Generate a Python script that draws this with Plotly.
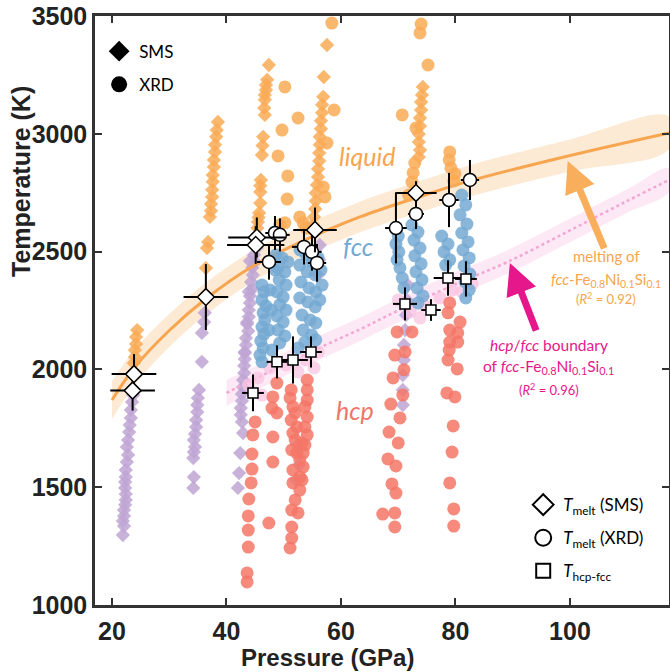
import plotly.graph_objects as go

# ---------------- data ----------------
# SMS, solid (purple diamonds)
sms_solid_P = [23.7, 23.5, 23.3, 23.3, 23.1, 23.0, 22.8, 22.6, 22.8, 22.6, 22.4, 22.4, 22.3, 22.3, 22.4, 22.4, 22.3, 22.1, 22.1, 21.9, 22.1, 21.9,
               36.2, 36.1, 35.7, 35.7, 35.2, 35.0, 34.9, 34.9, 34.7, 34.7, 34.5, 34.3, 34.5, 34.3, 34.2, 34.3, 34.2,
               45.3, 44.8, 45.0, 44.5, 44.6, 44.3, 44.5, 44.1, 44.1, 43.9, 43.9, 43.6, 43.8, 43.4, 43.4, 43.2, 43.2, 43.1, 43.1, 42.9,
               42.9, 42.7, 42.7, 42.5, 42.5, 42.7, 42.9, 42.4, 42.2, 42.0, 44.1, 43.9, 43.6, 43.2,
               52.3, 52.7, 52.1, 56.3, 56.2, 56.0,
               71.7, 71.5, 71.35, 71.2, 71.0, 71.0, 70.8, 70.8, 70.8]
sms_solid_T = [1891, 1862, 1828, 1794, 1764, 1734, 1700, 1671, 1637, 1607, 1573, 1543, 1522, 1497, 1471, 1446, 1425, 1403, 1378, 1357, 1335, 1297,
               2240, 2201, 2155, 2032, 1913, 1879, 1849, 1819, 1785, 1756, 1726, 1700, 1671, 1649, 1624, 1543, 1497,
               2515, 2486, 2456, 2431, 2401, 2371, 2341, 2312, 2282, 2252, 2223, 2193, 2163, 2133, 2104, 2074, 2044, 2015, 1985, 1955,
               1925, 1896, 1866, 1836, 1807, 1777, 1730, 1645, 1560, 1497, 2460, 2330, 2200, 2070,
               1679, 1594, 1531, 2528, 2465, 2401,
               2358, 2295, 2231, 2167, 2104, 2040, 1976, 1913, 1849]

# SMS, liquid (orange diamonds)
sms_liq_P = [24.4, 24.2, 24.2, 24.0, 24.0, 23.8,
             38.5, 38.3, 38.2, 38.0, 38.0, 37.8, 37.8, 37.6, 37.6, 37.5, 37.5, 37.3, 37.3, 37.1, 36.8, 36.6, 36.4,
             47.4, 47.1, 46.9, 46.9, 46.7, 46.7, 46.7, 46.4, 46.2, 46.0, 45.9, 45.9, 45.7, 45.5, 46.6, 46.3, 45.9, 45.6, 45.4,
             57.55, 57.0, 56.9, 56.7, 56.7, 56.5, 56.5, 56.3, 56.3, 56.2, 56.2, 56.0, 56.0, 55.8, 55.6, 55.6, 55.5, 55.3, 55.1,
             74.3, 74.15, 74.0, 74.0, 73.8, 73.8, 73.6, 73.6, 73.8, 73.6]
sms_liq_T = [2167, 2138, 2108, 2082, 2053, 2027,
             3050, 3016, 2987, 2953, 2923, 2889, 2859, 2825, 2796, 2762, 2732, 2702, 2673, 2647, 2541, 2515, 2430,
             3292, 3229, 3207, 3186, 3165, 3144, 3080, 2987, 2910, 2804, 2753, 2706, 2664, 2626, 3110, 2950, 2780, 2645, 2600,
             3377, 3241, 3157, 3123, 3089, 3055, 3021, 2987, 2953, 2919, 2885, 2851, 2817, 2783, 2749, 2715, 2681, 2647, 2613,
             3199, 3165, 3135, 3101, 3067, 3033, 2999, 2965, 2931, 2902]

# XRD, liquid (orange circles)
xrd_liq_P = [50.2, 52.5, 49.7, 49.0, 50.7, 50.6, 50.2, 52.8, 53.4, 49.3, 53.9,
             58.4, 58.8, 57.55, 56.9, 57.2,
             74.0, 73.8, 75.2, 70.7, 73.1, 72.9, 72.6, 72.4, 71.8,
             79.0, 78.9, 79.2, 79.9, 79.7]
xrd_liq_T = [3199, 3067, 3016, 2906, 2821, 2723, 2622, 2647, 2622, 2613, 2600,
             3470, 3101, 2961, 2774, 2732,
             3466, 3428, 3292, 3080, 3025, 2876, 2834, 2795, 2740,
             2923, 2889, 2855, 2830, 2800]

# XRD, fcc (blue circles)
xrd_fcc_P = [46.2, 46.55, 46.2, 46.9, 46.4, 46.7, 46.2, 46.55, 46.0, 46.4, 45.85, 46.2,
             48.65, 49.7, 50.74, 49.0, 50.2, 49.2, 50.4, 48.8, 49.9, 49.3, 50.4, 48.8, 49.9, 49.0, 50.2, 49.3, 47.95, 48.5, 47.6, 47.8, 47.4,
             52.84, 53.9, 54.9, 56.0, 52.8, 54.1, 55.5, 56.5, 53.0, 54.4, 55.6, 56.7, 52.8, 54.2, 55.5, 56.3, 53.2, 54.6, 55.6, 53.4, 54.9, 53.7, 55.6, 52.5,
             70.0, 69.6, 70.1, 69.8, 70.3, 70.7, 71.0, 72.4, 73.45, 72.75, 73.8, 72.9, 74.0, 73.1, 74.15, 73.3, 74.3, 73.45,
             77.6, 78.7, 78.0, 79.0, 78.3, 81.1, 81.8, 80.8, 82.0, 81.1, 82.2, 81.3, 82.4, 81.5, 82.5, 81.7, 82.4, 81.8]
xrd_fcc_T = [2358, 2329, 2295, 2269, 2240, 2210, 2180, 2150, 2121, 2091, 2061, 2032,
             2486, 2473, 2456, 2431, 2414, 2380, 2358, 2329, 2307, 2274, 2252, 2227, 2201, 2167, 2142, 2112, 2082, 2422, 2337, 2252, 2167,
             2507, 2486, 2456, 2473, 2443, 2414, 2401, 2422, 2371, 2346, 2329, 2358, 2303, 2286, 2265, 2295, 2231, 2210, 2197, 2167, 2146, 2116, 2125, 2091,
             2566, 2532, 2499, 2465, 2431, 2388, 2346, 2613, 2583, 2549, 2515, 2482, 2448, 2414, 2380, 2346, 2312, 2282,
             2566, 2532, 2499, 2465, 2443, 2740, 2698, 2656, 2617, 2579, 2541, 2507, 2473, 2439, 2405, 2371, 2337, 2303]

# XRD, hcp + fcc coexistence (light pink circles)
xrd_mix_P = [43.8, 45.5, 46.2, 47.6, 50.4, 52.5, 53.9, 55.3, 56.0, 70.0, 72.1, 73.8, 74.7, 77.3, 79.4, 81.1, 82.9]
xrd_mix_T = [1934, 1964, 1891, 2006, 2019, 1989, 2040, 2006, 2074, 2295, 2244, 2218, 2269, 2303, 2337, 2329, 2363]

# XRD, hcp (salmon circles)
xrd_hcp_P = [45.0, 44.6, 44.45, 44.45, 44.3, 43.9, 43.8, 43.8, 43.8, 43.6, 43.6,
             48.8, 48.1, 47.95, 48.8, 48.1, 48.1, 47.4,
             51.3, 51.1, 51.6, 52.0, 51.3, 52.3, 51.6, 52.0, 53.2, 51.4, 53.7, 52.3, 52.8, 51.6, 53.4, 53.2, 51.6, 52.8, 52.0, 51.4, 52.5,
             51.4, 51.4, 51.1, 54.1, 54.1, 54.1, 53.7, 54.1, 53.7, 54.1, 53.4, 52.8,
             69.8, 72.4, 69.4, 71.2, 69.1, 71.0, 70.8, 68.7, 70.3, 68.4, 70.0, 68.2, 69.6, 68.9, 69.6, 67.3, 69.4, 69.4,
             79.0, 78.7, 80.8, 79.0, 80.4, 79.0, 80.4, 78.9, 78.7, 80.3, 78.5, 79.9, 79.6, 79.4, 79.0, 79.7, 79.7]
xrd_hcp_T = [1777, 1722, 1641, 1577, 1518, 1450, 1378, 1318, 1246, 1136, 1098,
             1942, 1883, 1836, 1815, 1713, 1607, 1348,
             1913, 1879, 1841, 1815, 1785, 1756, 1730, 1700, 1688, 1658, 1679, 1645, 1616, 1573, 1586, 1531, 1518, 1488, 1446, 1403, 1391,
             1331, 1284, 1242, 1955, 1913, 1870, 1841, 1798, 1756, 1722, 1645, 1543,
             2159, 2159, 2061, 2074, 1964, 1998, 1891, 1853, 1794, 1734, 1688, 1620, 1590, 1514, 1475, 1386, 1391, 1331,
             2282, 2240, 2201, 2167, 2155, 2116, 2116, 2082, 2040, 2002, 1900, 1883, 1760, 1649, 1518, 1408, 1335]

# Melting points from SMS (open diamonds)
tm_sms_P = [23.84, 23.6, 36.4, 45.3, 45.1, 55.46, 73.1]
tm_sms_T = [1980, 1910, 2307, 2560, 2528, 2592, 2749]
tm_sms_dP = [3.9, 3.9, 3.9, 5.0, 5.0, 3.8, 3.6]
tm_sms_dT = [85, 85, 140, 85, 80, 95, 50]

# Melting points from XRD (open circles)
tm_xrd_P = [48.47, 49.34, 47.42, 53.54, 54.93, 55.81, 69.6, 73.1, 78.87, 82.53]
tm_xrd_T = [2579, 2571, 2456, 2520, 2499, 2452, 2600, 2660, 2719, 2804]
tm_xrd_dP = [1.7, 1.7, 2.1, 2.1, 1.7, 1.6, 1.9, 1.4, 1.7, 1.6]
tm_xrd_dT = [72, 70, 75, 75, 80, 80, 150, 64, 115, 85]

# hcp-fcc transition points (open squares)
thf_P = [44.63, 48.82, 51.62, 54.76, 71.18, 75.72, 78.69, 81.83]
thf_T = [1900, 2032, 2040, 2074, 2278, 2252, 2388, 2384]
thf_dP = [1.9, 1.8, 2.6, 1.9, 2.1, 1.7, 2.5, 1.9]
thf_dT = [78, 70, 100, 66, 70, 46, 75, 75]

# melting curve and its uncertainty band
melt_P = [20, 24, 30, 36.4, 44.5, 52, 63.3, 73.1, 82.5, 99.5, 117.3]
melt_T = [1870, 2010, 2165, 2300, 2437, 2530, 2647, 2728, 2800, 2905, 3004]
melt_band = [80, 75, 70, 68, 66, 65, 65, 66, 67, 68, 70]

# hcp/fcc boundary and its uncertainty band
bnd_P = [40, 45, 50, 55, 63.3, 70, 80, 89, 100, 110, 117.3]
bnd_T = [1900, 1960, 2020, 2078, 2170, 2250, 2362, 2455, 2590, 2715, 2804]
bnd_band = [55, 52, 50, 50, 50, 50, 50, 50, 50, 50, 50]

# ---------------- styling ----------------
PURPLE = 'rgba(190,165,212,0.85)'
ORANGE = 'rgba(249,170,85,0.85)'
BLUE = 'rgba(116,169,210,0.85)'
RED = 'rgba(244,118,102,0.85)'
PINK = 'rgba(248,196,226,0.75)'
ORANGE_TXT = '#f7a54f'
MAGENTA = '#e5178a'
BLUE_TXT = '#74a9d2'
RED_TXT = '#f07767'
LBL_FONT = 'Lato, Open Sans, sans-serif'
AX_FONT = 'Liberation Sans, Arial, sans-serif'

fig = go.Figure()

# bands
fig.add_trace(go.Scatter(
    x=melt_P + melt_P[::-1],
    y=[t + b for t, b in zip(melt_T, melt_band)] + [t - b for t, b in zip(melt_T[::-1], melt_band[::-1])],
    fill='toself', fillcolor='rgba(252,214,172,0.5)', line=dict(width=0, shape='spline'),
    mode='lines', hoverinfo='skip', showlegend=False))
fig.add_trace(go.Scatter(
    x=bnd_P + bnd_P[::-1],
    y=[t + b for t, b in zip(bnd_T, bnd_band)] + [t - b for t, b in zip(bnd_T[::-1], bnd_band[::-1])],
    fill='toself', fillcolor='rgba(249,200,230,0.4)', line=dict(width=0, shape='spline'),
    mode='lines', hoverinfo='skip', showlegend=False))

# data clouds
fig.add_trace(go.Scatter(x=sms_solid_P, y=sms_solid_T, mode='markers', showlegend=False,
                         marker=dict(symbol='diamond', size=11, color=PURPLE, line=dict(width=0))))
fig.add_trace(go.Scatter(x=sms_liq_P, y=sms_liq_T, mode='markers', showlegend=False,
                         marker=dict(symbol='diamond', size=11, color=ORANGE, line=dict(width=0))))

# fit curves
fig.add_trace(go.Scatter(x=melt_P, y=melt_T, mode='lines', showlegend=False,
                         line=dict(color='#f7a54f', width=3, shape='spline')))
fig.add_trace(go.Scatter(x=bnd_P, y=bnd_T, mode='lines', showlegend=False,
                         line=dict(color='#f4a6d2', width=2.5, dash='dot', shape='spline')))

fig.add_trace(go.Scatter(x=xrd_mix_P, y=xrd_mix_T, mode='markers', showlegend=False,
                         marker=dict(symbol='circle', size=13, color=PINK, line=dict(width=0))))
fig.add_trace(go.Scatter(x=xrd_hcp_P, y=xrd_hcp_T, mode='markers', showlegend=False,
                         marker=dict(symbol='circle', size=13, color=RED, line=dict(width=0))))
fig.add_trace(go.Scatter(x=xrd_fcc_P, y=xrd_fcc_T, mode='markers', showlegend=False,
                         marker=dict(symbol='circle', size=13, color=BLUE, line=dict(width=0))))
fig.add_trace(go.Scatter(x=xrd_liq_P, y=xrd_liq_T, mode='markers', showlegend=False,
                         marker=dict(symbol='circle', size=13, color=ORANGE, line=dict(width=0))))

# points with error bars
def eb(arr):
    return dict(type='data', array=arr, color='black', thickness=2, width=0)

fig.add_trace(go.Scatter(x=thf_P, y=thf_T, mode='markers', showlegend=False,
                         error_x=eb(thf_dP), error_y=eb(thf_dT),
                         marker=dict(symbol='square', size=10, color='white', line=dict(color='black', width=1.5))))
fig.add_trace(go.Scatter(x=tm_xrd_P, y=tm_xrd_T, mode='markers', showlegend=False,
                         error_x=eb(tm_xrd_dP), error_y=eb(tm_xrd_dT),
                         marker=dict(symbol='circle', size=13, color='white', line=dict(color='black', width=1.5))))
fig.add_trace(go.Scatter(x=tm_sms_P, y=tm_sms_T, mode='markers', showlegend=False,
                         error_x=eb(tm_sms_dP), error_y=eb(tm_sms_dT),
                         marker=dict(symbol='diamond', size=13, color='white', line=dict(color='black', width=1.5))))

# legend entries
fig.add_trace(go.Scatter(x=[None], y=[None], mode='markers', name='SMS', legend='legend', legendgroup='a',
                         marker=dict(symbol='diamond', size=16, color='black')))
fig.add_trace(go.Scatter(x=[None], y=[None], mode='markers', name='XRD', legend='legend', legendgroup='b',
                         marker=dict(symbol='circle', size=16, color='black')))
fig.add_trace(go.Scatter(x=[None], y=[None], mode='markers', name='<i>T</i><sub>melt</sub> (SMS)', legend='legend2',
                         legendgroup='c', marker=dict(symbol='diamond-open', size=16, color='black', line=dict(width=2))))
fig.add_trace(go.Scatter(x=[None], y=[None], mode='markers', name='<i>T</i><sub>melt</sub> (XRD)', legend='legend2',
                         legendgroup='d', marker=dict(symbol='circle-open', size=16, color='black', line=dict(width=2))))
fig.add_trace(go.Scatter(x=[None], y=[None], mode='markers', name='<i>T</i><sub>hcp-fcc</sub>', legend='legend2',
                         legendgroup='e', marker=dict(symbol='square-open', size=14, color='black', line=dict(width=2))))

ann = []
def txt(x, y, s, color, size, italic=False, xanchor='center'):
    ann.append(dict(x=x, y=y, xref='x', yref='y', text=s, showarrow=False, xanchor=xanchor, yanchor='middle',
                    font=dict(family=LBL_FONT, size=size, color=color, style='italic' if italic else 'normal')))

txt(64.6, 2906, 'liquid', ORANGE_TXT, 25, True)
txt(63.0, 2524, 'fcc', BLUE_TXT, 25, True)
txt(62.4, 1828, 'hcp', RED_TXT, 25, True)

txt(106.3, 2481, 'melting of', ORANGE_TXT, 15)
txt(106.3, 2380, '<i>fcc</i>-Fe<sub>0.8</sub>Ni<sub>0.1</sub>Si<sub>0.1</sub>', ORANGE_TXT, 15)
txt(106.3, 2300, '(<i>R</i><sup>2</sup> = 0.92)', ORANGE_TXT, 13)

txt(96.3, 2104, '<i>hcp</i>/<i>fcc</i> boundary', MAGENTA, 15.5)
txt(96.3, 2010, 'of <i>fcc</i>-Fe<sub>0.8</sub>Ni<sub>0.1</sub>Si<sub>0.1</sub>', MAGENTA, 15.5)
txt(96.3, 1915, '(<i>R</i><sup>2</sup> = 0.96)', MAGENTA, 13)

# arrows
ann.append(dict(x=99.6, y=2885, ax=106.1, ay=2507, xref='x', yref='y', axref='x', ayref='y', text='',
                showarrow=True, arrowhead=2, arrowsize=0.9, arrowwidth=7, arrowcolor='#f9ae5b', standoff=0))
ann.append(dict(x=89.5, y=2452, ax=94.2, ay=2159, xref='x', yref='y', axref='x', ayref='y', text='',
                showarrow=True, arrowhead=2, arrowsize=0.9, arrowwidth=7, arrowcolor=MAGENTA, standoff=0))

# axis titles
ann.append(dict(x=(327 - 95) / 574, y=-0.089, xref='paper', yref='paper', text='<b>Pressure (GPa)</b>',
                showarrow=False, xanchor='center', yanchor='middle',
                font=dict(family=AX_FONT, size=24, color='#222')))
ann.append(dict(x=(21 - 95) / 574, y=(605 - 182) / 589, xref='paper', yref='paper', text='<b>Temperature (K)</b>',
                showarrow=False, xanchor='center', yanchor='middle', textangle=-90,
                font=dict(family=AX_FONT, size=25, color='#222')))

axis_common = dict(showline=True, linewidth=2.5, linecolor='#333', mirror='ticks', ticks='inside', ticklen=7,
                   tickwidth=1.5, tickcolor='#333', showgrid=False, zeroline=False, automargin=False,
                   tickfont=dict(family=AX_FONT, size=25, color='#222', weight='bold'))

fig.update_layout(
    width=670, height=672,
    margin=dict(l=95, r=1, t=16, b=67),
    plot_bgcolor='white', paper_bgcolor='white',
    xaxis=dict(range=[17.03, 117.3], tickvals=[20, 40, 60, 80, 100], ticklabelstandoff=2, **axis_common),
    yaxis=dict(range=[1000, 3500], tickvals=[1000, 1500, 2000, 2500, 3000, 3500], ticklabelstandoff=0, **axis_common),
    legend=dict(x=0.0072, y=0.970, xanchor='left', yanchor='top', bgcolor='rgba(0,0,0,0)', tracegroupgap=8,
                font=dict(family=LBL_FONT, size=17, color='black'), itemsizing='trace'),
    legend2=dict(x=0.746, y=0.027, xanchor='left', yanchor='bottom', bgcolor='rgba(0,0,0,0)', tracegroupgap=8,
                 font=dict(family=LBL_FONT, size=17, color='black'), itemsizing='trace'),
    annotations=ann,
)

fig.write_html('out.html', config={'displayModeBar': False},
               post_script="document.body.style.margin='0px';document.body.style.overflow='hidden';")
